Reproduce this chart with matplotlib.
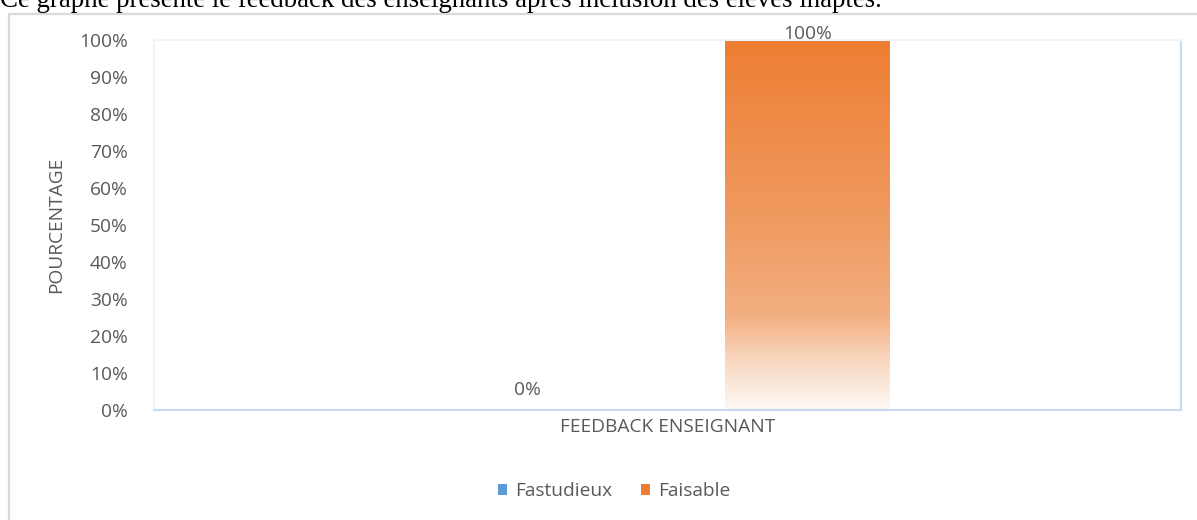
import matplotlib
matplotlib.use("Agg")
import matplotlib.pyplot as plt
import numpy as np
from matplotlib.colors import LinearSegmentedColormap
from matplotlib.patches import Patch
from matplotlib.lines import Line2D

# ---- data ----
categories = ["FEEDBACK ENSEIGNANT"]
series_names = ["Fastudieux", "Faisable"]
fastudieux = [0]
faisable = [100]
yticks = [0, 10, 20, 30, 40, 50, 60, 70, 80, 90, 100]
ylabel = "POURCENTAGE"
title = "Ce graphe présente le feedback des enseignants après inclusion des élèves inaptes."

W, H = 1197, 520
fig = plt.figure(figsize=(W / 100, H / 100), dpi=100)
fig.patch.set_facecolor("white")

FONT = ["Open Sans", "DejaVu Sans"]
GREY = "#595959"
FS = 13.8

ax = fig.add_axes([154 / W, 1 - 410 / H, (1181 - 154) / W, (410 - 40) / H])
ax.set_xlim(-0.5, 0.5)
ax.set_ylim(0, 100)

x = np.arange(len(categories))
width = 0.16
offset = 0.136

blue = "#5B9BD5"
orange = "#ED7D31"

b1 = ax.bar(x - offset, fastudieux, width, color=blue, label=series_names[0])
b2 = ax.bar(x + offset, faisable, width, color="none", edgecolor="none", label=series_names[1])

grad = LinearSegmentedColormap.from_list(
    "og",
    [
        (0.0, (253 / 255, 249 / 255, 245 / 255)),
        (0.14, (248 / 255, 214 / 255, 188 / 255)),
        (0.25, (243 / 255, 176 / 255, 130 / 255)),
        (0.5, (240 / 255, 155 / 255, 98 / 255)),
        (1.0, (237 / 255, 126 / 255, 50 / 255)),
    ],
)
for rect in b2:
    x0 = rect.get_x()
    x1 = x0 + rect.get_width()
    h = rect.get_height()
    if h <= 0:
        continue
    img = np.linspace(0, 1, 256).reshape(-1, 1)
    im = ax.imshow(img, cmap=grad, origin="lower", aspect="auto",
                   extent=[x0, x1, 0, h], zorder=2, interpolation="bicubic")
    im.set_clip_path(rect)
ax.set_xlim(-0.5, 0.5)
ax.set_ylim(0, 100)

# data labels
for xi, v in zip(x - offset, fastudieux):
    ax.text(xi, v + 3.0, f"{v}%", ha="center", va="bottom", fontsize=FS, color=GREY, family=FONT)
for xi, v in zip(x + offset, faisable):
    ax.text(xi, v - 0.8, f"{v}%", ha="center", va="bottom", fontsize=FS, color=GREY, family=FONT)

ax.set_yticks(yticks)
ax.set_yticklabels([f"{t}%" for t in yticks], fontsize=FS, color=GREY, family=FONT)
ax.set_xticks(x)
ax.set_xticklabels(categories, fontsize=FS, color=GREY, family=FONT)
ax.tick_params(axis="y", length=0, pad=19)
ax.tick_params(axis="x", length=0, pad=6)
ax.set_ylabel(ylabel, fontsize=FS, color=GREY, family=FONT, labelpad=10)

for s in ["bottom", "right"]:
    ax.spines[s].set_color("#C6DBEF")
    ax.spines[s].set_linewidth(1.5)
for s in ["top", "left"]:
    ax.spines[s].set_color("#EEF4FB")
    ax.spines[s].set_linewidth(1.5)

handles = [Patch(facecolor=blue, edgecolor="none"), Patch(facecolor=orange, edgecolor="none")]
leg = fig.legend(handles, series_names, loc="center", bbox_to_anchor=(614 / W, 1 - 491 / H),
                 ncol=2, frameon=False, handlelength=0.5, handleheight=0.5,
                 handletextpad=0.4, columnspacing=1.5,
                 prop={"family": FONT, "size": FS})
for t in leg.get_texts():
    t.set_color(GREY)

# outer frame (partial)
fig.add_artist(Line2D([8.5 / W, 1.0], [1 - 13.5 / H, 1 - 13.5 / H], color="#D9D9D9", lw=1.6,
                      transform=fig.transFigure))
fig.add_artist(Line2D([8.5 / W, 8.5 / W], [0, 1 - 13.5 / H], color="#D9D9D9", lw=1.6,
                      transform=fig.transFigure))

# clipped title
t = fig.text(0.0, 1 - 7 / H, title, ha="left", va="baseline", fontsize=16,
             family=["Liberation Serif", "DejaVu Serif"], color="black")
fig.canvas.draw()
bb = t.get_window_extent()
t.set_fontsize(16 * 885 / bb.width)

fig.savefig("out.png", dpi=100)
